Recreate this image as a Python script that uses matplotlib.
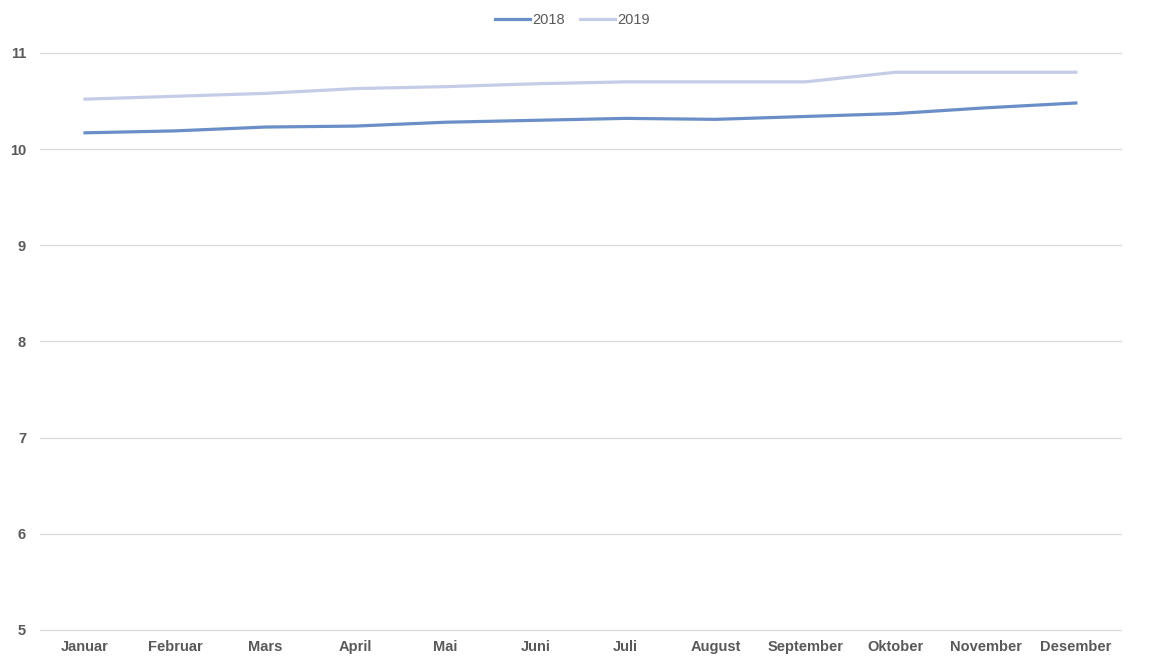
import matplotlib
matplotlib.use("Agg")
import matplotlib.pyplot as plt

months = ['Januar', 'Februar', 'Mars', 'April', 'Mai', 'Juni', 'Juli',
          'August', 'September', 'Oktober', 'November', 'Desember']
values_2018 = [10.17, 10.19, 10.23, 10.24, 10.28, 10.30, 10.32, 10.31, 10.34, 10.37, 10.43, 10.48]
values_2019 = [10.52, 10.55, 10.58, 10.63, 10.65, 10.68, 10.70, 10.70, 10.70, 10.80, 10.80, 10.80]
yticks = [5, 6, 7, 8, 9, 10, 11]

plt.rcParams['font.family'] = ['Liberation Sans', 'DejaVu Sans']

fig = plt.figure(figsize=(11.52, 6.6), dpi=100)
ax = fig.add_axes([0.0347, 0.0455, 0.9383, 0.8742])

x = list(range(len(months)))
ax.plot(x, values_2018, color='#6A8FC8', linewidth=2.3, label='2018')
ax.plot(x, values_2019, color='#C5CCE8', linewidth=2.3, label='2019')

ax.set_xlim(-0.5, len(months) - 0.5)
ax.set_ylim(5, 11)
ax.set_yticks(yticks)
ax.set_xticks(x)
ax.set_xticklabels(months)
ax.grid(axis='y', color='#D9D9D9', linewidth=0.9)
for gl in ax.get_ygridlines():
    gl.set_clip_on(False)
ax.set_axisbelow(True)
for s in ax.spines.values():
    s.set_visible(False)
ax.tick_params(length=0, labelsize=10.5, labelcolor='#595959', pad=7)
ax.tick_params(axis='y', pad=10)
for lbl in ax.get_xticklabels() + ax.get_yticklabels():
    lbl.set_fontweight('bold')

fig.legend(loc='upper center', bbox_to_anchor=(0.497, 1.0), ncol=2, frameon=False,
           fontsize=10.5, labelcolor='#595959', handlelength=2.4, columnspacing=1.0,
           handletextpad=0.15)

fig.savefig('out.png', dpi=100)
